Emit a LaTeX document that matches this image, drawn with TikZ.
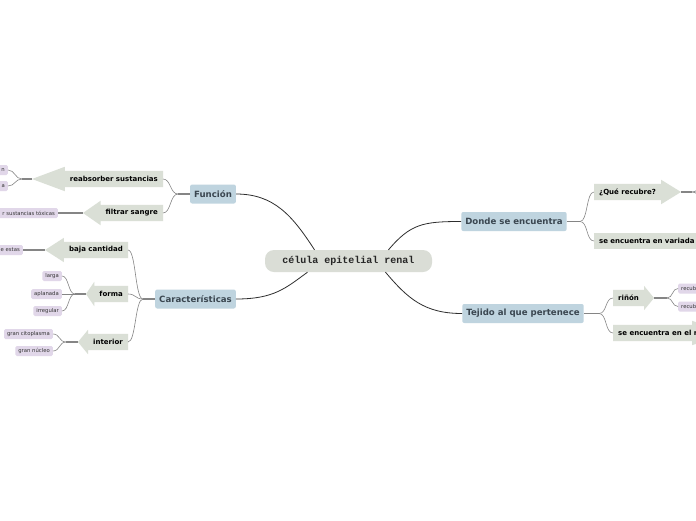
\documentclass[tikz,border=0pt]{standalone}
\usepackage{fontspec}
\setmainfont{DejaVu Sans}
\newfontfamily\cellfont{Liberation Mono}
\usepackage{xcolor}
\usetikzlibrary{positioning,calc,backgrounds}
\definecolor{cellfill}{HTML}{DADDD6}
\definecolor{topicfill}{HTML}{BFD4DF}
\definecolor{topictext}{HTML}{3A4650}
\definecolor{subfill}{HTML}{DADFD6}
\definecolor{leaffill}{HTML}{E1D7E9}
\definecolor{mainline}{HTML}{2E2E2E}
\definecolor{branchline}{HTML}{858585}
% arrow head of a subtopic, pointing left or right to a tip coordinate
\newcommand{\headleft}[2]{\fill[subfill] (#1.north east) -- (#1.north west) -- ([yshift=4pt]#1.north west) -- (#2) -- ([yshift=-4pt]#1.south west) -- (#1.south west) -- (#1.south east) -- cycle;}
\newcommand{\headright}[2]{\fill[subfill] (#1.north west) -- (#1.north east) -- ([yshift=4pt]#1.north east) -- (#2) -- ([yshift=-4pt]#1.south east) -- (#1.south east) -- (#1.south west) -- cycle;}

\begin{document}
\begin{tikzpicture}[x=1pt,y=-1pt,
    cell/.style={rectangle,rounded corners=9pt,fill=cellfill,minimum width=167pt,minimum height=22pt,
                 font=\cellfont\fontsize{10}{12}\selectfont\bfseries,text=black!85},
    topic/.style={rectangle,rounded corners=2pt,fill=topicfill,minimum height=19pt,inner xsep=4pt,
                  font=\fontsize{8.6}{10}\selectfont\bfseries,text=topictext},
    sub/.style={rectangle,inner xsep=5pt,minimum height=16pt,font=\fontsize{7}{8}\selectfont\bfseries,text=black},
    leaf/.style={rectangle,rounded corners=1.5pt,fill=leaffill,minimum height=10pt,inner xsep=3pt,inner ysep=0pt,
                 font=\fontsize{5.3}{6}\selectfont,text=black!80},
    edgeleaf/.style={leaf,text width=#1,align=right},
    main/.style={draw=mainline,line width=0.8pt},
    branch/.style={draw=branchline,line width=0.6pt},
    stub/.style={draw=branchline,line width=1.5pt}
]
\useasboundingbox (0,0) rectangle (696,520);
\clip (0,0) rectangle (696,520);

\node[cell] (cell) at (348.5,261) {célula epitelial renal};

\node[topic] (funcion) at (213,194)   {Función};
\node[topic] (caract)  at (195.5,299) {Características};
\node[topic] (donde)   at (514,221.5) {Donde se encuentra};
\node[topic] (tejido)  at (523,313.5) {Tejido al que pertenece};

% Funcion
\node[sub,anchor=east] (reabs)   at (163,179) {reabsorber sustancias};
\node[sub,anchor=east] (filtrar) at (163,213) {filtrar sangre};
\coordinate (reabs-tip)   at (32,179);
\coordinate (filtrar-tip) at (83,213);
\node[edgeleaf=20pt,anchor=east] (reabs-a) at (8,170) {n};
\node[edgeleaf=20pt,anchor=east] (reabs-b) at (8,186) {a};
\node[edgeleaf=60pt,anchor=east] (toxicas) at (58,213) {r sustancias tóxicas};

% Caracteristicas
\node[sub,anchor=east] (baja)     at (128,250) {baja cantidad};
\node[sub,anchor=east] (forma)    at (128,294) {forma};
\node[sub,anchor=east] (interior) at (128,342) {interior};
\coordinate (baja-tip)     at (45,250);
\coordinate (forma-tip)    at (86,294);
\coordinate (interior-tip) at (78,342);
\node[edgeleaf=22pt,anchor=east] (estas) at (23,250) {e estas};
\node[leaf,anchor=east] (larga)     at (62,276) {larga};
\node[leaf,anchor=east] (aplanada)  at (62,294) {aplanada};
\node[leaf,anchor=east] (irregular) at (62,311) {irregular};
\node[leaf,anchor=east] (citoplasma) at (53,334) {gran citoplasma};
\node[leaf,anchor=east] (nucleo)     at (53,351) {gran núcleo};

% Donde se encuentra
\node[sub,anchor=west] (recubre) at (594,192) {¿Qué recubre?};
\coordinate (recubre-tip) at (681,192);
\node[sub,anchor=west,fill=subfill,text width=120pt,align=left] (variada) at (594,241) {se encuentra en variada};

% Tejido al que pertenece
\node[sub,anchor=west] (rinon) at (613,298) {riñón};
\coordinate (rinon-tip) at (654,298);
\node[leaf,anchor=west,text width=30pt,align=left] (recub-a) at (678,288.5) {recub};
\node[leaf,anchor=west,text width=30pt,align=left] (recub-b) at (678,306.5) {recub};
\node[sub,anchor=west] (elr) at (613,333) {se encuentra en el r};
\coordinate (elr-base) at (692,333);
\coordinate (elr-tip)  at (730,333);

\begin{pgfonlayer}{background}
  \fill[white] (0,0) rectangle (696,520);
  \headleft{reabs}{reabs-tip}
  \headleft{filtrar}{filtrar-tip}
  \headleft{baja}{baja-tip}
  \headleft{forma}{forma-tip}
  \headleft{interior}{interior-tip}
  \headright{recubre}{recubre-tip}
  \headright{rinon}{rinon-tip}
  \fill[subfill] (elr.north west) -- (elr.north west -| elr-base) -- ([yshift=4pt]elr.north west -| elr-base)
     -- (elr-tip) -- ([yshift=-4pt]elr.south west -| elr-base) -- (elr.south west -| elr-base) -- (elr.south west) -- cycle;
\end{pgfonlayer}

% main connectors
\draw[main] (funcion.east) .. controls +(38,0) and +(-22,-34) .. ([xshift=-34pt]cell.north);
\draw[main] (caract.east) .. controls +(38,0) and +(-22,16) .. ([xshift=-41pt]cell.south);
\draw[main] (donde.west) .. controls +(-38,0) and +(22,-26) .. ([xshift=40pt]cell.north);
\draw[main] (tejido.west) .. controls +(-38,0) and +(22,26) .. ([xshift=37pt]cell.south);

% topic to subtopics
\coordinate (funcion-stub) at (178,194);
\draw[stub] (funcion.west) -- (funcion-stub);
\foreach \s in {reabs,filtrar}
  \draw[branch] (funcion-stub) .. controls +(-8,0) and +(8,0) .. (\s.east);
\coordinate (caract-stub) at (143,299);
\draw[stub] (caract.west) -- (caract-stub);
\foreach \s in {baja,forma,interior}
  \draw[branch] (caract-stub) .. controls +(-8,0) and +(8,0) .. (\s.east);
\coordinate (donde-stub) at (580,221.5);
\draw[stub] (donde.east) -- (donde-stub);
\foreach \s in {recubre,variada}
  \draw[branch] (donde-stub) .. controls +(8,0) and +(-8,0) .. (\s.west);
\coordinate (tejido-stub) at (599,313.5);
\draw[stub] (tejido.east) -- (tejido-stub);
\foreach \s in {rinon,elr}
  \draw[branch] (tejido-stub) .. controls +(8,0) and +(-8,0) .. (\s.west);

% subtopics to leaves
\coordinate (reabs-stub) at (22,179);
\draw[stub] (reabs-tip) -- (reabs-stub);
\foreach \l in {reabs-a,reabs-b}
  \draw[branch] (reabs-stub) .. controls +(-7,0) and +(7,0) .. (\l.east);
\draw[stub] (filtrar-tip) -- (toxicas.east);
\draw[stub] (baja-tip) -- (estas.east);
\coordinate (forma-stub) at (75,294);
\draw[stub] (forma-tip) -- (forma-stub);
\foreach \l in {larga,aplanada,irregular}
  \draw[branch] (forma-stub) .. controls +(-7,0) and +(7,0) .. (\l.east);
\coordinate (interior-stub) at (66,342);
\draw[stub] (interior-tip) -- (interior-stub);
\foreach \l in {citoplasma,nucleo}
  \draw[branch] (interior-stub) .. controls +(-7,0) and +(7,0) .. (\l.east);
\coordinate (recubre-stub) at (692,192);
\coordinate (recubre-up)   at (710,182);
\coordinate (recubre-down) at (710,202);
\draw[stub] (recubre-tip) -- (recubre-stub);
\foreach \l in {recubre-up,recubre-down}
  \draw[branch] (recubre-stub) .. controls +(7,0) and +(-7,0) .. (\l);
\coordinate (rinon-stub) at (667,298);
\draw[stub] (rinon-tip) -- (rinon-stub);
\foreach \l in {recub-a,recub-b}
  \draw[branch] (rinon-stub) .. controls +(6,0) and +(-6,0) .. (\l.west);
\end{tikzpicture}
\end{document}
